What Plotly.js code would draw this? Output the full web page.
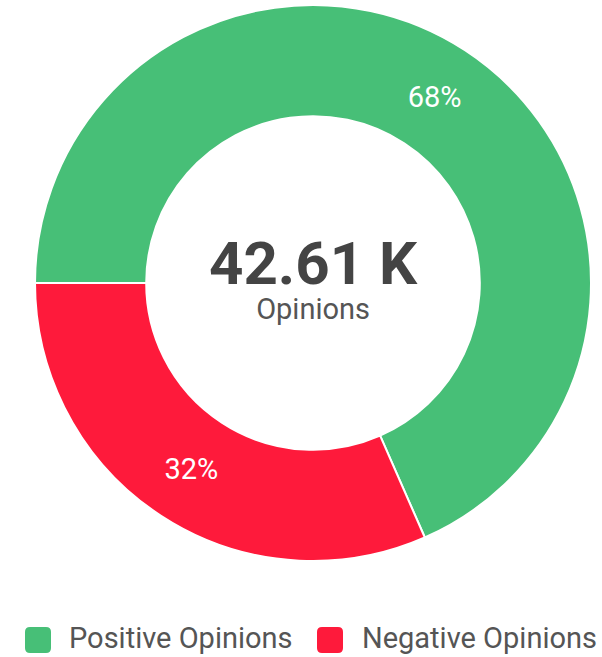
<!DOCTYPE html>
<html>
<head>
<meta charset="utf-8">
<script src="https://cdn.plot.ly/plotly-3.0.1.min.js"></script>
<style>html,body{margin:0;padding:0;background:#fff;}#chart{width:602px;height:657px;}</style>
</head>
<body>
<div id="chart"></div>
<script>
// Data
const labels = ["Positive Opinions", "Negative Opinions"];
const values = [29150, 13460];
const colors = ["#47BF77", "#FE1A3B"];
const centerValue = "42.61 K";
const centerLabel = "Opinions";

// Layout geometry (pixels)
const W = 602, H = 657;
const M = {l: 35, r: 11, t: 5, b: 96};
const plotW = W - M.l - M.r, plotH = H - M.t - M.b;
const px2x = p => (p - M.l) / plotW;
const py2y = p => (H - M.b - p) / plotH;

const legendItems = [
  {sq: 25, txt: 67},
  {sq: 317, txt: 360}
];
const sqSize = 26, legendSqCy = 640, legendTxtCy = 638, rad = 5;

const shapes = [];
const annotations = [
  {text: "<b><span style='font-size:60px;color:#444444'>" + centerValue + "</span></b><br>" +
         "<span style='font-size:29px;color:#555555'>" + centerLabel + "</span>",
   x: 0.5, y: py2y(277), xref: "paper", yref: "paper",
   showarrow: false, font: {family: "Roboto", size: 27, color: "#555555"}, yanchor: "middle"}
];

labels.forEach((lab, i) => {
  const it = legendItems[i];
  const x0 = px2x(it.sq), x1 = px2x(it.sq + sqSize);
  const yTop = py2y(legendSqCy - sqSize / 2), yBot = py2y(legendSqCy + sqSize / 2);
  const rx = rad / plotW, ry = rad / plotH;
  const path = `M ${x0 + rx} ${yTop} L ${x1 - rx} ${yTop} Q ${x1} ${yTop} ${x1} ${yTop - ry} ` +
               `L ${x1} ${yBot + ry} Q ${x1} ${yBot} ${x1 - rx} ${yBot} ` +
               `L ${x0 + rx} ${yBot} Q ${x0} ${yBot} ${x0} ${yBot + ry} ` +
               `L ${x0} ${yTop - ry} Q ${x0} ${yTop} ${x0 + rx} ${yTop} Z`;
  shapes.push({type: "path", xref: "paper", yref: "paper", path: path,
               fillcolor: colors[i], line: {width: 0}});
  annotations.push({text: lab, x: px2x(it.txt), y: py2y(legendTxtCy), xref: "paper", yref: "paper",
                    xanchor: "left", yanchor: "middle", showarrow: false,
                    font: {family: "Roboto", size: 29, color: "#555555"}});
});

const trace = {
  type: "pie",
  labels: labels,
  values: values,
  hole: 0.6,
  sort: false,
  direction: "clockwise",
  rotation: -90,
  marker: {colors: colors, line: {color: "#ffffff", width: 2}},
  texttemplate: "%{percent:.0%}",
  textposition: "inside",
  insidetextorientation: "horizontal",
  textfont: {family: "Roboto", size: 29, color: "#ffffff"},
  showlegend: false,
  hoverinfo: "label+percent"
};

const layout = {
  width: W, height: H,
  margin: M,
  paper_bgcolor: "#ffffff",
  plot_bgcolor: "#ffffff",
  showlegend: false,
  shapes: shapes,
  annotations: annotations,
  font: {family: "Roboto"}
};

Plotly.newPlot("chart", [trace], layout, {displayModeBar: false, staticPlot: true});
</script>
</body>
</html>
